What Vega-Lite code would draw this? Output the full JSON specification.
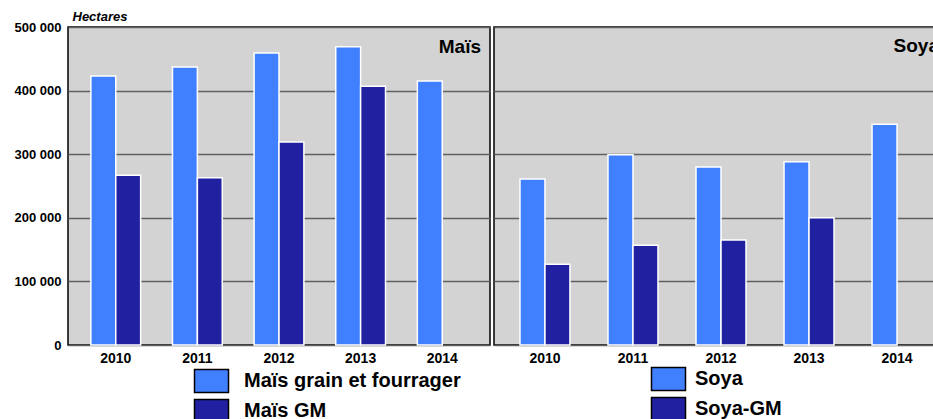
{
  "$schema": "https://vega.github.io/schema/vega-lite/v6.json",
  "padding": {"left": 13, "top": 9, "right": 0, "bottom": 0},
  "background": "white",
  "datasets": {
    "d": [
      {"crop": "Maïs", "year": "2010", "series": "Maïs grain et fourrager", "value": 423000},
      {"crop": "Maïs", "year": "2011", "series": "Maïs grain et fourrager", "value": 437000},
      {"crop": "Maïs", "year": "2012", "series": "Maïs grain et fourrager", "value": 459000},
      {"crop": "Maïs", "year": "2013", "series": "Maïs grain et fourrager", "value": 469000},
      {"crop": "Maïs", "year": "2014", "series": "Maïs grain et fourrager", "value": 415000},
      {"crop": "Maïs", "year": "2010", "series": "Maïs GM", "value": 267000},
      {"crop": "Maïs", "year": "2011", "series": "Maïs GM", "value": 263000},
      {"crop": "Maïs", "year": "2012", "series": "Maïs GM", "value": 319000},
      {"crop": "Maïs", "year": "2013", "series": "Maïs GM", "value": 407000},
      {"crop": "Soya", "year": "2010", "series": "Soya", "value": 261000},
      {"crop": "Soya", "year": "2011", "series": "Soya", "value": 299000},
      {"crop": "Soya", "year": "2012", "series": "Soya", "value": 280000},
      {"crop": "Soya", "year": "2013", "series": "Soya", "value": 288000},
      {"crop": "Soya", "year": "2014", "series": "Soya", "value": 347000},
      {"crop": "Soya", "year": "2010", "series": "Soya-GM", "value": 127000},
      {"crop": "Soya", "year": "2011", "series": "Soya-GM", "value": 157000},
      {"crop": "Soya", "year": "2012", "series": "Soya-GM", "value": 165000},
      {"crop": "Soya", "year": "2013", "series": "Soya-GM", "value": 200000}
    ]
  },
  "spacing": 2,
  "resolve": {"scale": {"color": "independent", "x": "independent", "xOffset": "independent"}, "legend": {"color": "independent"}},
  "hconcat": [
    {
      "width": 422,
      "height": 318,
      "data": {"name": "d"},
      "transform": [{"filter": "datum.crop === 'Maïs'"}],
      "title": {"text": "Maïs", "anchor": "end", "frame": "group", "offset": -62, "dx": -9, "baseline": "alphabetic", "fontSize": 19, "fontWeight": "bold", "font": "Liberation Sans", "color": "black"},
      "mark": {"type": "bar", "stroke": "white", "strokeWidth": 1.5},
      "encoding": {
        "x": {"field": "year", "type": "nominal", "scale": {"paddingInner": 0.39, "paddingOuter": 0.28}, "axis": {"title": null, "labelAngle": 0, "ticks": false, "domain": false, "labelPadding": 6}},
        "xOffset": {"field": "series", "type": "nominal", "sort": null, "scale": {"domain": ["Maïs grain et fourrager", "Maïs GM"], "paddingInner": 0, "paddingOuter": 0}},
        "y": {"field": "value", "type": "quantitative", "scale": {"domain": [0, 500000]},
          "axis": {"values": [0, 100000, 200000, 300000, 400000, 500000], "labelExpr": "replace(format(datum.value, ','), ',', ' ')", "grid": true, "ticks": false, "domain": false, "labelPadding": 7, "labelFontSize": 13,
            "title": "Hectares", "titleAngle": 0, "titleX": 4, "titleY": -7, "titleAlign": "left", "titleBaseline": "alphabetic", "titleFontStyle": "italic", "titleFontWeight": "bold", "titleFontSize": 13, "titleFont": "Liberation Sans", "titleColor": "black"}},
        "color": {"field": "series", "type": "nominal", "sort": null, "scale": {"domain": ["Maïs grain et fourrager", "Maïs GM"], "range": ["#4080FF", "#2020A0"]},
          "legend": {"orient": "none", "legendX": 133.5, "legendY": 344, "title": null, "labelOffset": 22.5}}
      }
    },
    {
      "width": 454,
      "height": 318,
      "data": {"name": "d"},
      "transform": [{"filter": "datum.crop === 'Soya'"}],
      "title": {"text": "Soya", "anchor": "end", "frame": "group", "offset": -44, "dx": -9, "baseline": "alphabetic", "fontSize": 19, "fontWeight": "bold", "font": "Liberation Sans", "color": "black"},
      "mark": {"type": "bar", "stroke": "white", "strokeWidth": 1.5},
      "encoding": {
        "x": {"field": "year", "type": "nominal", "scale": {"paddingInner": 0.432, "paddingOuter": 0.295}, "axis": {"title": null, "labelAngle": 0, "ticks": false, "domain": false, "labelPadding": 6}},
        "xOffset": {"field": "series", "type": "nominal", "sort": null, "scale": {"domain": ["Soya", "Soya-GM"], "paddingInner": 0, "paddingOuter": 0}},
        "y": {"field": "value", "type": "quantitative", "scale": {"domain": [0, 500000]},
          "axis": {"values": [0, 100000, 200000, 300000, 400000, 500000], "grid": true, "labels": false, "ticks": false, "domain": false, "title": null, "minExtent": 0, "maxExtent": 0}},
        "color": {"field": "series", "type": "nominal", "sort": null, "scale": {"domain": ["Soya", "Soya-GM"], "range": ["#4080FF", "#2020A0"]},
          "legend": {"orient": "none", "legendX": 164.5, "legendY": 342, "title": null, "labelOffset": 16.5}}
      }
    }
  ],
  "config": {
    "view": {"fill": "#d3d3d3", "stroke": "black", "strokeWidth": 1.5},
    "axis": {"labelFont": "Liberation Sans", "labelFontWeight": "bold", "labelFontSize": 14, "labelColor": "black", "gridColor": "#606060", "gridWidth": 1.5, "gridOpacity": 1},
    "legend": {"symbolType": "M-2,-1.36H2V1.36H-2Z", "symbolSize": 289, "symbolStrokeColor": "black", "symbolStrokeWidth": 1.5, "symbolOpacity": 1, "labelFont": "Liberation Sans", "labelFontWeight": "bold", "labelFontSize": 20, "labelColor": "black", "labelLimit": 400, "rowPadding": 0, "padding": 0}
  }
}
